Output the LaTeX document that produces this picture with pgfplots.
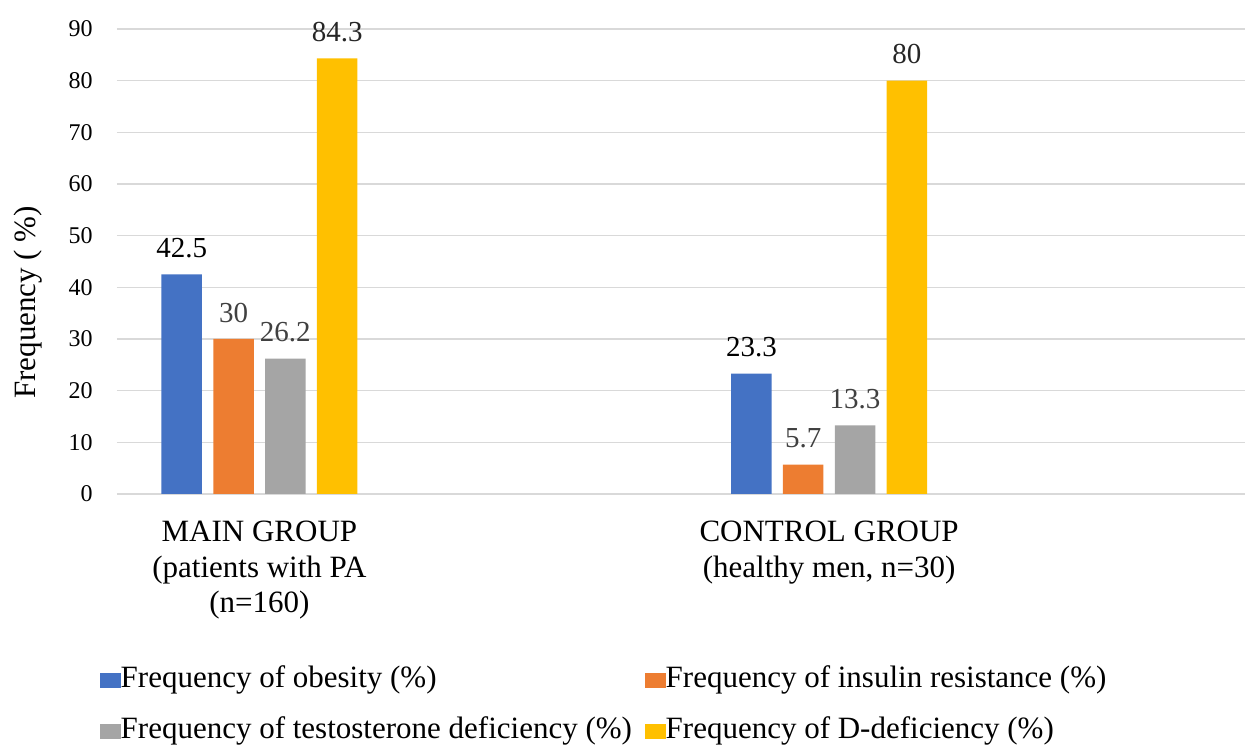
\documentclass[border=0pt]{standalone}
\usepackage{fontspec}
\setmainfont{Liberation Serif}
\newfontfamily\tnr{Liberation Serif}
\usepackage{pgfplots}
\pgfplotsset{compat=1.18}
\usetikzlibrary{calc}
\definecolor{cBlue}{HTML}{4472C4}
\definecolor{cOrange}{HTML}{ED7D31}
\definecolor{cGray}{HTML}{A5A5A5}
\definecolor{cGold}{HTML}{FFC000}
\definecolor{gridc}{HTML}{D9D9D9}
\definecolor{lab}{HTML}{404040}
\definecolor{labd}{HTML}{262626}
\begin{document}
\begin{tikzpicture}[font=\tnr]
\begin{axis}[name=ax,
  scale only axis, width=564pt, height=232.5pt,
  xmin=-0.25, xmax=1.73, ymin=0, ymax=90,
  ybar=5.65pt, bar width=20.25pt,
  ytick={0,10,...,90}, xtick={0,1},
  xticklabels={{MAIN GROUP\\(patients with PA\\(n=160)},{CONTROL GROUP\\(healthy men, n=30)}},
  major tick length=0pt,
  axis line style={draw=none},
  ymajorgrids, grid style={draw=gridc, line width=0.8pt},
  /pgf/number format/assume math mode=true,
  yticklabel style={font=\tnr\fontsize{12}{14}\selectfont, anchor=east, inner sep=0pt, xshift=-12pt, text=black},
  xticklabel style={font=\tnr\fontsize{15.5}{17.75}\selectfont, align=center, anchor=north, inner sep=0pt, yshift=-13.5pt, text=black},
  ylabel={Frequency ( \%)},
  ylabel style={at={(rel axis cs:-0.0789,0.412)}, anchor=center, font=\tnr\fontsize{15.5}{18}\selectfont},
  nodes near coords,
  nodes near coords style={font=\tnr\fontsize{14.5}{17}\selectfont, yshift=4.7pt},
  legend columns=2,
  legend cell align=left,
  legend style={at={(rel axis cs:0,0)}, anchor=north west, xshift=-8.5pt, yshift=-86.5pt,
    draw=none, fill=none, inner sep=0pt, outer sep=0pt, row sep=11.25pt, column sep=0pt,
    font=\tnr\fontsize{15.5}{18}\selectfont,
    nodes={inner sep=0pt, text height=10.5pt, text depth=3.5pt}},
  legend image code/.code={\path (0pt,-3.75pt) rectangle (10.35pt,3.75pt); \fill[#1, draw=none] (0pt,-3.75pt) rectangle (7.5pt,3.75pt);},
]
\addplot[fill=cBlue, draw=none, every node near coord/.append style={text=black}] coordinates {(0,42.5) (1,23.3)};
\addlegendentry{\makebox[262.15pt][l]{Frequency of obesity (\%)}}
\addplot[fill=cOrange, draw=none, every node near coord/.append style={text=lab}] coordinates {(0,30) (1,5.7)};
\addlegendentry{Frequency of insulin resistance (\%)}
\addplot[fill=cGray, draw=none, every node near coord/.append style={text=lab}] coordinates {(0,26.2) (1,13.3)};
\addlegendentry{\makebox[262.15pt][l]{Frequency of testosterone deficiency (\%)}}
\addplot[fill=cGold, draw=none, every node near coord/.append style={text=labd}] coordinates {(0,84.3) (1,80)};
\addlegendentry{Frequency of D-deficiency (\%)}
\end{axis}
\pgfresetboundingbox
\path[use as bounding box] ($(ax.south west)+(-58.5pt,-126pt)$) rectangle ($(ax.north east)+(0pt,14.5pt)$);
\end{tikzpicture}
\end{document}
